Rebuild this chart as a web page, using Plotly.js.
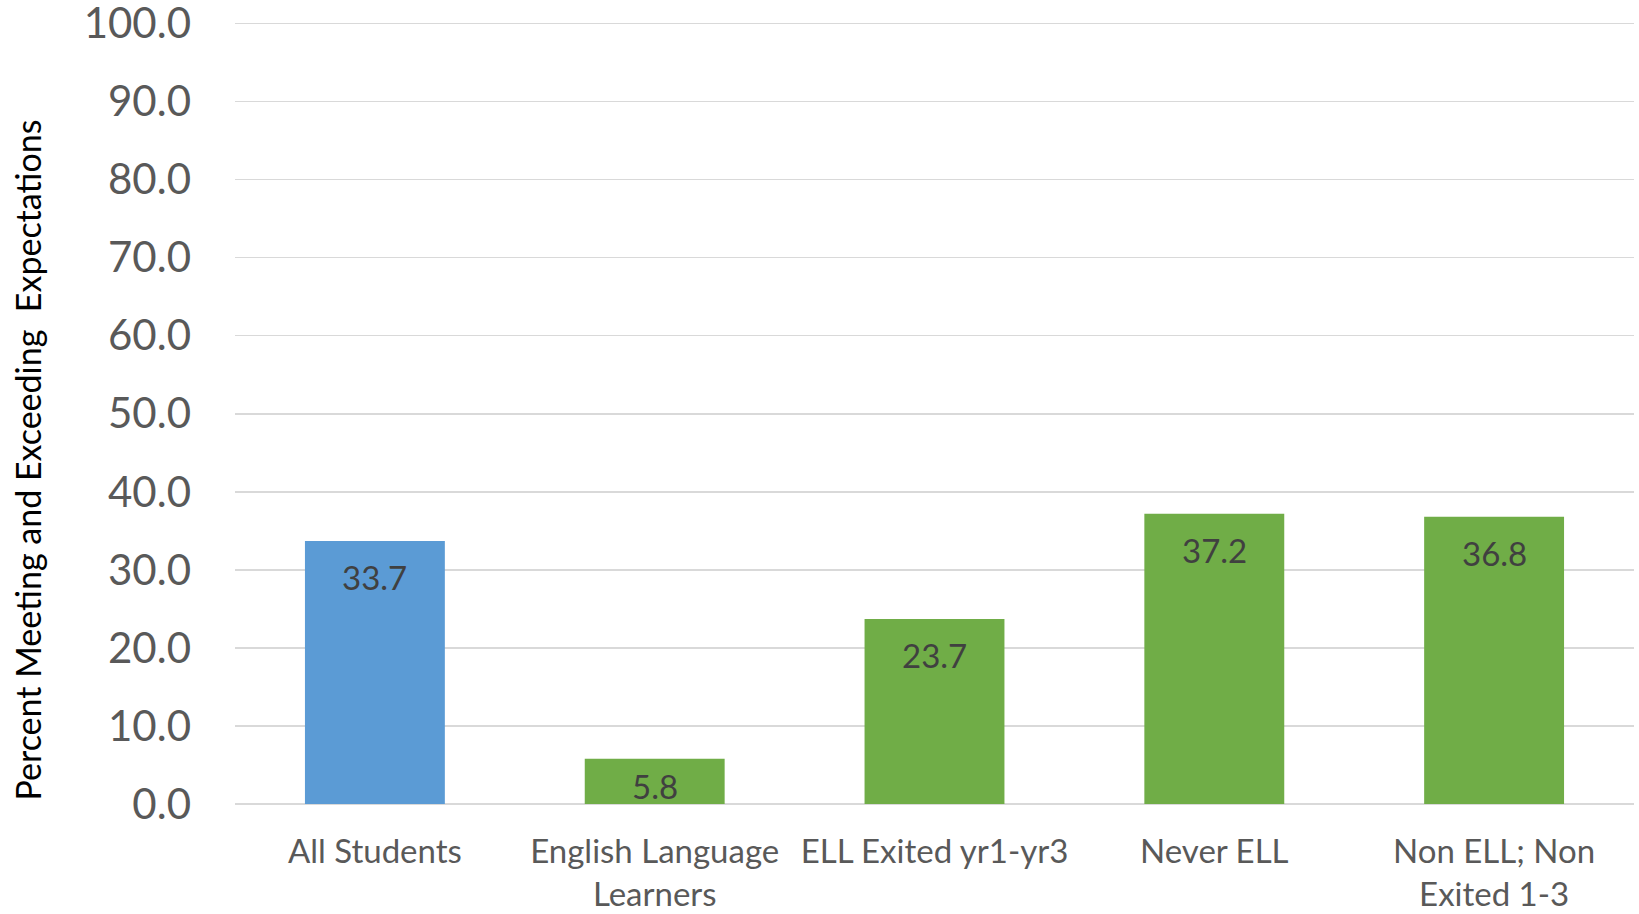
<!DOCTYPE html>
<html>
<head>
<meta charset="utf-8">
<script src="https://cdn.plot.ly/plotly-3.0.1.min.js"></script>
<style>html,body{margin:0;padding:0;background:#fff;}#chart{width:1639px;height:914px;}</style>
</head>
<body>
<div id="chart"></div>
<script>
const categories = ["All Students", "English Language<br>Learners", "ELL Exited yr1-yr3", "Never ELL", "Non ELL; Non<br>Exited 1-3"];
const values = [33.7, 5.8, 23.7, 37.2, 36.8];
const barColors = ["#5B9BD5", "#70AD47", "#70AD47", "#70AD47", "#70AD47"];
const labels = ["33.7", "5.8", "23.7", "37.2", "36.8"];
const yTickVals = [0, 10, 20, 30, 40, 50, 60, 70, 80, 90, 100];
const yTickText = ["0.0", "10.0", "20.0", "30.0", "40.0", "50.0", "60.0", "70.0", "80.0", "90.0", "100.0"];
const yTitle = "Percent Meeting and Exceeding\u00a0 Expectations";

const W = 1639, H = 914;
const margin = {l: 235, r: 5, t: 22, b: 110};
const yMax = 100.2;
const plotH = H - margin.t - margin.b;
const pxPerUnit = plotH / yMax;

const annotations = values.map((v, i) => {
  const barPx = v * pxPerUnit;
  const shift = -Math.min(36, barPx - 18);
  return {
    x: categories[i], y: v, xref: 'x', yref: 'y',
    text: labels[i], showarrow: false,
    yshift: shift, yanchor: 'middle',
    font: {family: 'Lato, sans-serif', size: 33, color: '#404040'}
  };
});
annotations.push({
  xref: 'paper', yref: 'paper', x: -0.148, y: 0.4405,
  text: yTitle, textangle: -90, showarrow: false,
  xanchor: 'center', yanchor: 'middle',
  font: {family: 'Lato, sans-serif', size: 34, color: '#000000'}
});

const trace = {
  type: 'bar', x: categories, y: values,
  marker: {color: barColors},
  hoverinfo: 'none'
};

const layout = {
  width: W, height: H,
  margin: margin,
  paper_bgcolor: '#ffffff', plot_bgcolor: '#ffffff',
  bargap: 0.5,
  showlegend: false,
  xaxis: {
    type: 'category',
    showgrid: false, zeroline: false, showline: false,
    ticks: '', ticklabelstandoff: 25,
    tickfont: {family: 'Lato, sans-serif', size: 33, color: '#595959'}
  },
  yaxis: {
    range: [0, yMax],
    tickvals: yTickVals, ticktext: yTickText,
    showgrid: true, gridcolor: '#D9D9D9', gridwidth: 1.5,
    zeroline: true, zerolinecolor: '#D9D9D9', zerolinewidth: 1.5,
    showline: false, ticks: '', ticklabelstandoff: 43,
    ticklabeloverflow: 'allow',
    tickfont: {family: 'Lato, sans-serif', size: 42, color: '#595959'}
  },
  annotations: annotations
};

Plotly.newPlot('chart', [trace], layout, {displayModeBar: false, staticPlot: true});
</script>
</body>
</html>
